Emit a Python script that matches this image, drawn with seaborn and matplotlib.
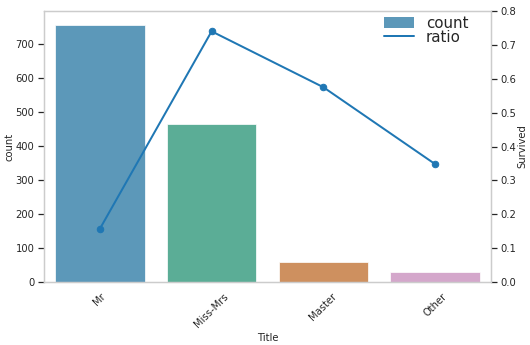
import matplotlib
matplotlib.use("Agg")
import matplotlib.pyplot as plt
from matplotlib.lines import Line2D
import seaborn as sns
import pandas as pd
import numpy as np

titles = ["Mr", "Miss-Mrs", "Master", "Other"]
counts = [757, 464, 60, 29]
ratios = [0.157, 0.740, 0.575, 0.348]

sns.set_theme(style="whitegrid")
plt.rcParams['font.family'] = ['DejaVu Sans']

cb = sns.color_palette("colorblind")
pal = [cb[0], cb[2], cb[3], cb[4]]

df = pd.DataFrame({"Title": titles, "count": counts, "Survived": ratios})

fig = plt.figure(figsize=(530/72, 345/72), dpi=72)
ax = fig.add_axes([44/530, 1-282/345, (491-44)/530, (282-11)/345])
sns.barplot(data=df, x="Title", y="count", hue="Title", palette=pal, alpha=0.7,
            ax=ax, legend=False)
ax.grid(False)
ax.set_ylim(0, 797)
ax.set_xlim(-0.5, 3.5)
ax.tick_params(axis='x', rotation=45, labelsize=10)
ax.tick_params(axis='y', labelsize=10)
ax.set_xlabel("Title", fontsize=10)
ax.set_ylabel("count", fontsize=10, labelpad=1)

ax2 = ax.twinx()
ax2.plot(np.arange(len(titles)), df["Survived"], color="#1f77b4", lw=2,
         marker="o", ms=6.5)
ax2.set_ylim(0, 0.8)
ax2.grid(False)
ax2.set_ylabel("Survived", fontsize=10, labelpad=1)
ax2.tick_params(axis='y', labelsize=10)
for a in (ax, ax2):
    for s in a.spines.values():
        s.set_color("#cccccc")

sat = sns.desaturate(pal[0], 0.75)
handles = [plt.Rectangle((0, 0), 1, 1, facecolor=sat, edgecolor="none", alpha=0.7),
           Line2D([], [], color="#1f77b4", lw=2)]
ax2.legend(handles, ["count", "ratio"], loc="center", fontsize=15, frameon=False,
           handlelength=2, labelspacing=-0.08,
           bbox_to_anchor=(426/530, 1-30.25/345), bbox_transform=fig.transFigure)

fig.savefig("out.png", dpi=72)
